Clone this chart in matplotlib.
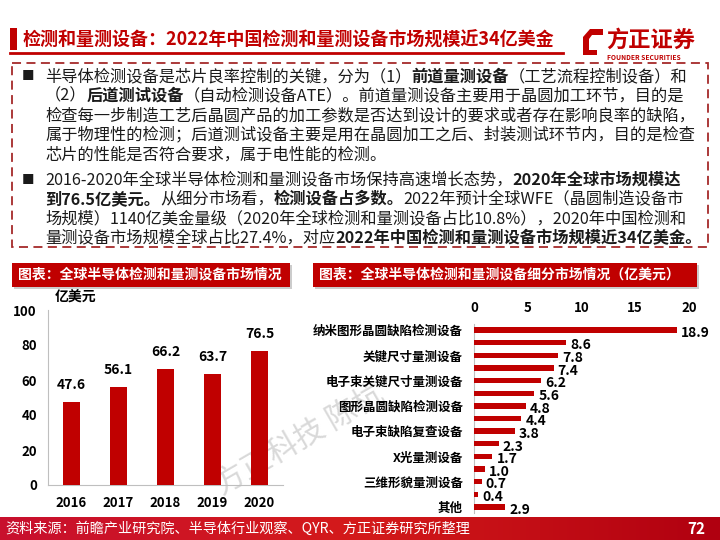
import numpy as np
import matplotlib.pyplot as plt
from matplotlib.patches import Rectangle, Polygon
from matplotlib.colors import LinearSegmentedColormap

plt.rcParams['font.family'] = ['Noto Sans CJK SC', 'DejaVu Sans']

RED = "#C00000"
GRAY = "#BFBFBF"

# Left chart: global market size (100M USD)
years = ["2016", "2017", "2018", "2019", "2020"]
market_size = [47.6, 56.1, 66.2, 63.7, 76.5]
left_yticks = [0, 20, 40, 60, 80, 100]

# Right chart: sub-market breakdown (100M USD), only every other bar is labelled
segment_labels = ["纳米图形晶圆缺陷检测设备", "", "关键尺寸量测设备", "",
                  "电子束关键尺寸量测设备", "", "图形晶圆缺陷检测设备", "",
                  "电子束缺陷复查设备", "", "X光量测设备", "",
                  "三维形貌量测设备", "", "其他"]
segment_values = [18.9, 8.6, 7.8, 7.4, 6.2, 5.6, 4.8, 4.4, 3.8, 2.3, 1.7, 1.0, 0.7, 0.4, 2.9]
right_xticks = [0, 5, 10, 15, 20]

title = "检测和量测设备：2022年中国检测和量测设备市场规模近34亿美金"
para1 = [
    [("半导体检测设备是芯片良率控制的关键，分为（1）", 0), ("前道量测设备", 1), ("（工艺流程控制设备）和", 0)],
    [("（2）", 0), ("后道测试设备", 1), ("（自动检测设备ATE）。前道量测设备主要用于晶圆加工环节，目的是", 0)],
    [("检查每一步制造工艺后晶圆产品的加工参数是否达到设计的要求或者存在影响良率的缺陷，", 0)],
    [("属于物理性的检测；后道测试设备主要是用在晶圆加工之后、封装测试环节内，目的是检查", 0)],
    [("芯片的性能是否符合要求，属于电性能的检测。", 0)],
]
para2 = [
    [("2016-2020年全球半导体检测和量测设备市场保持高速增长态势，", 0), ("2020年全球市场规模达", 1)],
    [("到76.5亿美元。", 1), ("从细分市场看，", 0), ("检测设备占多数。", 1), ("2022年预计全球WFE（晶圆制造设备市", 0)],
    [("场规模）1140亿美金量级（2020年全球检测和量测设备占比10.8%），2020年中国检测和", 0)],
    [("量测设备市场规模全球占比27.4%，对应", 0), ("2022年中国检测和量测设备市场规模近34亿美金。", 1)],
]
left_banner = "图表：全球半导体检测和量测设备市场情况"
right_banner = "图表：全球半导体检测和量测设备细分市场情况（亿美元）"
source = "资料来源：前瞻产业研究院、半导体行业观察、QYR、方正证券研究所整理"
page_no = "72"

fig = plt.figure(figsize=(7.2, 5.4), dpi=100)
fig.patch.set_facecolor("white")

# background axes in pixel coordinates (y down)
bg = fig.add_axes([0, 0, 1, 1])
bg.set_xlim(0, 720)
bg.set_ylim(540, 0)
bg.axis("off")

# header
bg.add_patch(Rectangle((10, 28), 7, 22, color=RED, lw=0))
bg.text(22, 40, title, fontsize=13, fontweight="bold", color=RED, va="center", ha="left")
bg.plot([10, 563], [53, 53], color=RED, lw=2)

# logo
bg.add_patch(Polygon([[590, 29], [603, 29], [603, 35], [592, 35], [589, 39], [589, 50],
                      [597, 50], [597, 55], [583, 55], [583, 37]], closed=True, color=RED, lw=0))
bg.text(606, 40, "方正证券", fontsize=16, fontweight="bold", color=RED, va="center", ha="left")
bg.text(607, 57, "FOUNDER SECURITIES", fontsize=4.8, fontweight="bold", color=RED, va="center", ha="left")

# dashed text box
bg.add_patch(Rectangle((12, 63), 696, 184, fill=False, ec="#A52A2A", lw=1.3, ls=(0, (5, 3))))

renderer = fig.canvas.get_renderer()


def rich_line(x, y, segs, size=11.7):
    for s, b in segs:
        t = bg.text(x, y, s, fontsize=size, fontweight="bold" if b else "normal",
                    color="#1a1a1a", va="center", ha="left")
        x += t.get_window_extent(renderer=renderer).width


for ys, para in [((77, 96, 116, 135, 155), para1), ((180, 199, 219, 238), para2)]:
    bg.text(22, ys[0], "■", fontsize=9, color="#1a1a1a", va="center", ha="left")
    for y, segs in zip(ys, para):
        rich_line(45, y, segs)

# chart banners
for x0, w, txt in [(12, 278, left_banner), (313, 384, right_banner)]:
    bg.add_patch(Rectangle((x0 + 2, 265), w, 24, color="#9a9a9a", lw=0, alpha=0.5))
    bg.add_patch(Rectangle((x0, 263), w, 24, color=RED, lw=0))
    bg.text(x0 + 6, 275, txt, fontsize=10, fontweight="bold", color="white", va="center", ha="left")

# watermark
bg.text(300, 440, "方正科技 陈杭", fontsize=22, color="#d9d9d9", rotation=30,
        va="center", ha="center", zorder=0)

# footer gradient
grad = np.linspace(0, 1, 256).reshape(1, -1)
cmap = LinearSegmentedColormap.from_list("foot", ["#C8102E", "#D41A1A", "#B00010"])
bg.imshow(grad, extent=[0, 720, 540, 517], aspect="auto", cmap=cmap, zorder=1)
bg.set_xlim(0, 720)
bg.set_ylim(540, 0)
bg.text(5, 529, source, fontsize=10.2, color="white", va="center", ha="left", zorder=2)
bg.text(705, 529, page_no, fontsize=11, fontweight="bold", color="white", va="center", ha="right", zorder=2)

# left chart
ax1 = fig.add_axes([48 / 720, 55 / 540, 235 / 720, 175 / 540])
ax1.patch.set_alpha(0)
xpos = np.arange(len(years))
bars = ax1.bar(xpos, market_size, width=0.36, color=RED, zorder=3)
for b, v in zip(bars, market_size):
    ax1.annotate(f"{v:.1f}", (b.get_x() + b.get_width() / 2, v), xytext=(0, 7),
                 textcoords="offset points", ha="center", va="bottom",
                 fontsize=10, fontweight="bold")
ax1.set_xlim(-0.5, len(years) - 0.5)
ax1.set_ylim(0, 100)
ax1.set_yticks(left_yticks)
ax1.set_xticks(xpos)
ax1.set_xticklabels(years)
ax1.tick_params(length=0, labelsize=9.5, pad=8)
for lab in ax1.get_xticklabels() + ax1.get_yticklabels():
    lab.set_fontweight("bold")
for side in ["top", "right"]:
    ax1.spines[side].set_visible(False)
for side in ["left", "bottom"]:
    ax1.spines[side].set_color(GRAY)
ax1.text(0.03, 1.07, "亿美元", transform=ax1.transAxes, fontsize=10, fontweight="bold",
         va="center", ha="left")

# right chart
ax2 = fig.add_axes([474 / 720, 26.7 / 540, 215 / 720, 189.6 / 540])
ax2.patch.set_alpha(0)
ypos = np.arange(len(segment_values))
hb = ax2.barh(ypos, segment_values, height=0.42, color=RED, zorder=3)
for b, v in zip(hb, segment_values):
    ax2.annotate(f"{v:.1f}", (v, b.get_y() + b.get_height() / 2), xytext=(3, -2),
                 textcoords="offset points", ha="left", va="center",
                 fontsize=10, fontweight="bold")
ax2.set_ylim(len(segment_values) - 0.5, -0.5)
ax2.set_xlim(0, 20)
ax2.set_xticks(right_xticks)
ax2.xaxis.tick_top()
ax2.set_yticks(ypos)
ax2.set_yticklabels(segment_labels)
ax2.tick_params(length=0, labelsize=9, pad=8)
ax2.tick_params(axis="x", labelsize=9.5, pad=6)
for lab in ax2.get_xticklabels() + ax2.get_yticklabels():
    lab.set_fontweight("bold")
for side in ["top", "right", "bottom"]:
    ax2.spines[side].set_visible(False)
ax2.spines["left"].set_color(GRAY)

fig.savefig("out.png", dpi=100)
